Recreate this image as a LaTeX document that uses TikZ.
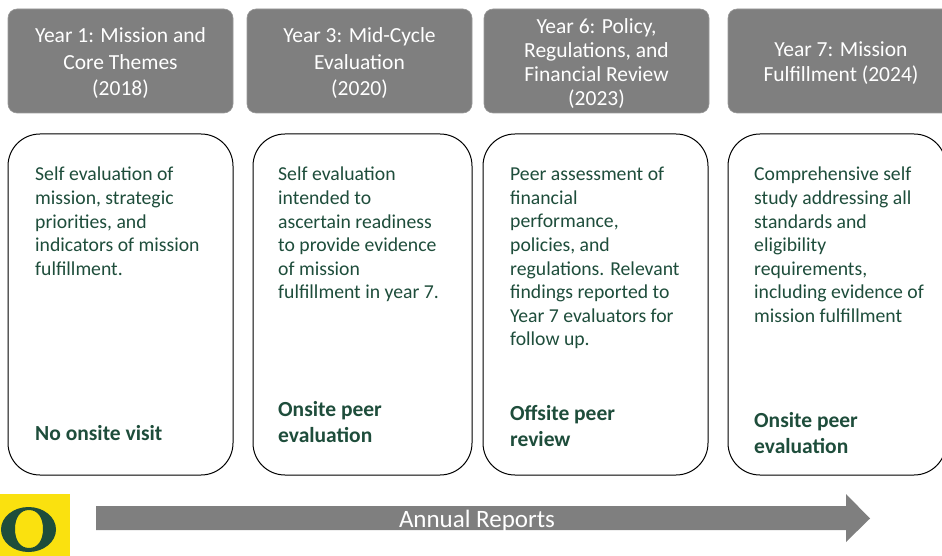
\documentclass[tikz,border=0pt]{standalone}
\usepackage{fontspec}
\setmainfont{Carlito}
\definecolor{oregongreen}{HTML}{1E4D3B}
\definecolor{oregonyellow}{HTML}{FAE10F}
\definecolor{bargray}{HTML}{7F7F7F}
\tikzset{
  yearbox/.style={fill=bargray,draw=bargray!80!white,line width=0.6pt,rounded corners=9pt,inner sep=0pt,minimum height=104pt},
  yeartext/.style={inner sep=0pt,yshift=-2.5pt,text=white,align=center,font=\fontsize{21.5}{26.5}\selectfont},
  infobox/.style={draw=black,line width=1pt,fill=white,rounded corners=32pt,inner sep=0pt,minimum height=341pt},
  infotext/.style={anchor=north west,inner sep=0pt,align=left,text=oregongreen,font=\fontsize{19.7}{23.6}\selectfont},
  visittext/.style={anchor=north west,inner sep=0pt,align=left,text=oregongreen,font=\fontsize{21.5}{26}\selectfont\bfseries}
}

\begin{document}
\begin{tikzpicture}[x=1pt,y=-1pt]
\useasboundingbox (0,0) rectangle (942,556);
% year headers
\node [yearbox,minimum width=225pt] (yearone) at (120.5,61) {};
\node [yearbox,minimum width=225pt] (yearthree) at (359.5,61) {};
\node [yearbox,minimum width=225pt] (yearsix) at (596.5,61) {};
\node [yearbox,minimum width=226pt] (yearseven) at (841,61) {};
\node [yeartext] (labelone) at (yearone) {Year 1: Mission and\\Core Themes\\(2018)};
\node [yeartext] (labelthree) at (yearthree) {Year 3: Mid-Cycle\\Evaluation\\(2020)};
\node [yeartext,font=\fontsize{21.5}{24}\selectfont] (labelsix) at (yearsix) {Year 6: Policy,\\Regulations, and\\Financial Review\\(2023)};
\node [yeartext,font=\fontsize{21.5}{25}\selectfont] (labelseven) at (yearseven) {Year 7: Mission\\Fulfillment (2024)};
% boxes
\node [infobox,minimum width=225pt] (boxone) at (120.5,304.5) {};
\node [infobox,minimum width=219pt] (boxthree) at (362.5,304.5) {};
\node [infobox,minimum width=225pt] (boxsix) at (595.5,304.5) {};
\node [infobox,minimum width=218pt] (boxseven) at (837,304.5) {};
% text in the boxes
\node [infotext] (textone) at (35,167) {Self evaluation of\\mission, strategic\\priorities, and\\indicators of mission\\fulfillment.};
\node [infotext] (textthree) at (278,167) {Self evaluation\\intended to\\ascertain readiness\\to provide evidence\\of mission\\fulfillment in year 7.};
\node [infotext] (textsix) at (510,167) {Peer assessment of\\financial\\performance,\\policies, and\\regulations. Relevant\\findings reported to\\Year 7 evaluators for\\follow up.};
\node [infotext] (textseven) at (754,167) {Comprehensive self\\study addressing all\\standards and\\eligibility\\requirements,\\including evidence of\\mission fulfillment};
\node [visittext] (visitone) at (35,425) {No onsite visit};
\node [visittext] (visitthree) at (278,401) {Onsite peer\\evaluation};
\node [visittext] (visitsix) at (510,405) {Offsite peer\\review};
\node [visittext] (visitseven) at (754,412) {Onsite peer\\evaluation};
% logo
\fill [oregonyellow] (0,494) rectangle (70,556);
\fill [oregongreen,even odd rule] (28.5,529.5) ellipse [x radius=27.5,y radius=22.5]
  (29,510) .. controls (38,510) and (43,518) .. (43,529) .. controls (43,540) and (38,548) .. (29,548)
  .. controls (20,548) and (15,540) .. (15,529) .. controls (15,518) and (20,510) .. (29,510) -- cycle;
% annual reports
\fill [bargray] (96,506) -- (846,506) -- (846,494) -- (870,518.5) -- (846,542) -- (846,530) -- (96,530) -- cycle;
\node [text=white,font=\fontsize{25}{28}\selectfont] (reports) at (477,521) {Annual Reports};
\end{tikzpicture}
\end{document}
